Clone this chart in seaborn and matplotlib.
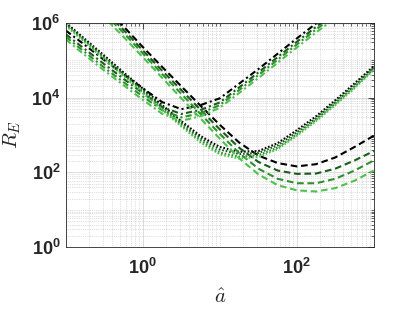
import numpy as np
import pandas as pd
import matplotlib
matplotlib.use("Agg")
import matplotlib.pyplot as plt
import seaborn as sns
from matplotlib.ticker import FixedLocator, NullFormatter

sns.set_theme(style="white")
plt.rcParams["mathtext.fontset"] = "custom"
plt.rcParams["mathtext.bf"] = "Liberation Sans:bold"
plt.rcParams["mathtext.rm"] = "Liberation Sans"
plt.rcParams["mathtext.it"] = "Liberation Sans:italic"
plt.rcParams["font.family"] = ["Liberation Sans", "DejaVu Sans"]

# x positions: log10(a_hat)
log_a = [-1.0, -0.75, -0.5, -0.25, 0.0, 0.25, 0.5, 0.75, 1.0, 1.25,
         1.5, 1.75, 2.0, 2.25, 2.5, 2.75, 3.0]

shades = ["s1", "s2", "s3", "s4"]
shade_colors = ["#000000", "#1a5c1a", "#2f8f2f", "#4cc24c"]

# log10(R_E) values, dash-dot family
dashdot = [
    [5.79, 5.40, 5.00, 4.62, 4.25, 3.88, 3.69, 3.80, 3.98, 4.37, 4.76, 5.17, 5.58, 5.98, 6.37, 6.77, 7.17],
    [5.69, 5.29, 4.89, 4.50, 4.12, 3.75, 3.56, 3.67, 3.87, 4.27, 4.67, 5.08, 5.49, 5.89, 6.28, 6.68, 7.08],
    [5.62, 5.21, 4.80, 4.41, 4.03, 3.66, 3.47, 3.58, 3.80, 4.20, 4.60, 5.01, 5.42, 5.82, 6.21, 6.61, 7.00],
    [5.55, 5.13, 4.72, 4.33, 3.94, 3.57, 3.38, 3.50, 3.73, 4.12, 4.52, 4.93, 5.34, 5.74, 6.13, 6.53, 6.93],
]
# dotted family
dotted = [
    [6.00, 5.56, 5.12, 4.67, 4.24, 3.80, 3.37, 2.97, 2.68, 2.55, 2.57, 2.78, 3.13, 3.50, 3.93, 4.38, 4.84],
    [5.98, 5.53, 5.09, 4.64, 4.20, 3.76, 3.32, 2.91, 2.61, 2.49, 2.52, 2.72, 3.07, 3.45, 3.88, 4.33, 4.80],
    [5.95, 5.50, 5.05, 4.60, 4.16, 3.71, 3.27, 2.85, 2.53, 2.42, 2.46, 2.66, 3.02, 3.41, 3.84, 4.29, 4.77],
    [5.92, 5.47, 5.02, 4.57, 4.12, 3.67, 3.23, 2.80, 2.48, 2.37, 2.41, 2.62, 2.98, 3.37, 3.80, 4.25, 4.74],
]
# dashed family
dashed = [
    [7.40, 6.90, 6.40, 5.90, 5.35, 4.82, 4.30, 3.78, 3.27, 2.80, 2.45, 2.25, 2.16, 2.22, 2.40, 2.68, 2.98],
    [7.32, 6.82, 6.31, 5.81, 5.26, 4.72, 4.20, 3.67, 3.15, 2.66, 2.28, 2.05, 1.96, 1.97, 2.10, 2.32, 2.57],
    [7.25, 6.75, 6.24, 5.73, 5.18, 4.63, 4.10, 3.56, 3.03, 2.52, 2.10, 1.83, 1.71, 1.71, 1.83, 2.05, 2.32],
    [7.15, 6.65, 6.14, 5.62, 5.08, 4.53, 3.98, 3.44, 2.90, 2.38, 1.95, 1.66, 1.52, 1.49, 1.58, 1.78, 2.05],
]

rows = []
for fam, data in [("dashdot", dashdot), ("dotted", dotted), ("dashed", dashed)]:
    for s, vals in zip(shades, data):
        for la, lr in zip(log_a, vals):
            rows.append({"a": 10 ** la, "R": 10 ** lr, "shade": s, "family": fam})
df = pd.DataFrame(rows)

fig = plt.figure(figsize=(4.14, 3.11), dpi=100)
ax = fig.add_axes([0.159, 0.205, 0.744, 0.722])
ax.set_xscale("log")
ax.set_yscale("log")

sns.lineplot(data=df, x="a", y="R", hue="shade", style="family",
             palette=dict(zip(shades, shade_colors)),
             dashes={"dashdot": (3, 1.5, 1, 1.5), "dotted": (0.8, 0.9), "dashed": (3.2, 1.8)},
             estimator=None, sort=True, legend=False, linewidth=1.5, ax=ax)

ax.set_xlim(0.1, 1000)
ax.set_ylim(1, 1e6)

ax.xaxis.set_major_locator(FixedLocator([1, 100]))
ax.set_xticklabels([r"$\mathbf{10^{0}}$", r"$\mathbf{10^{2}}$"])
xminor = [m * 10.0 ** k for k in range(-1, 3) for m in range(1, 10) if not (m == 1 and k in (0, 2))] + [1000]
ax.xaxis.set_minor_locator(FixedLocator(xminor))
ax.xaxis.set_minor_formatter(NullFormatter())

ax.yaxis.set_major_locator(FixedLocator([1, 1e2, 1e4, 1e6]))
ax.set_yticklabels([r"$\mathbf{10^{0}}$", r"$\mathbf{10^{2}}$", r"$\mathbf{10^{4}}$", r"$\mathbf{10^{6}}$"])
yminor = [m * 10.0 ** k for k in range(0, 6) for m in range(1, 10) if not (m == 1 and k % 2 == 0)]
ax.yaxis.set_minor_locator(FixedLocator(yminor))
ax.yaxis.set_minor_formatter(NullFormatter())

ax.tick_params(axis="both", which="major", direction="in", length=4, width=0.6,
               labelsize=13, top=True, right=True, color="#262626")
ax.tick_params(axis="x", which="major", pad=8)
ax.tick_params(axis="y", which="major", pad=4)
ax.tick_params(axis="both", which="minor", direction="in", length=2, width=0.5,
               top=True, right=True, color="#262626")

ax.grid(True, which="major", color="#b0b0b0", linestyle="-", linewidth=0.5, alpha=0.6)
ax.grid(True, which="minor", color="#b0b0b0", linestyle=":", linewidth=0.5, alpha=0.8)
for sp in ax.spines.values():
    sp.set_color("#262626")
    sp.set_linewidth(0.6)

ax.set_xlabel(r"$\hat{a}$", fontsize=15, math_fontfamily="cm")
ax.set_ylabel(r"$R_E$", fontsize=15, math_fontfamily="cm")
ax.xaxis.set_label_coords(0.5, -0.18)
ax.yaxis.set_label_coords(-0.14, 0.5)

fig.savefig("out.png", dpi=100)
